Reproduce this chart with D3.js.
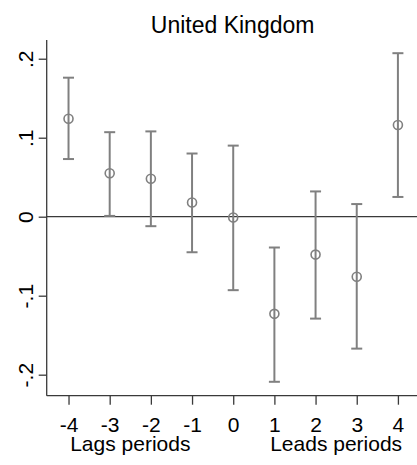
<!DOCTYPE html>
<html>
<head>
<meta charset="utf-8">
<script src="https://cdn.jsdelivr.net/npm/d3@7"></script>
<style>
  html, body { margin: 0; padding: 0; background: #fff; }
  svg { display: block; font-family: Arial, "Liberation Sans", Helvetica, sans-serif; }
</style>
</head>
<body>
<svg id="chart" width="417" height="465"></svg>
<script>
const periods = [-4, -3, -2, -1, 0, 1, 2, 3, 4];
const estimates = [0.124, 0.055, 0.048, 0.018, -0.001, -0.123, -0.048, -0.076, 0.116];
const upper = [0.176, 0.107, 0.108, 0.080, 0.090, -0.039, 0.032, 0.016, 0.207];
const lower = [0.073, 0.001, -0.012, -0.045, -0.093, -0.209, -0.129, -0.167, 0.025];
const yTicks = [-0.2, -0.1, 0, 0.1, 0.2];
const yTickLabels = ["-.2", "-.1", "0", ".1", ".2"];
const xTickLabels = ["-4", "-3", "-2", "-1", "0", "1", "2", "3", "4"];
const title = "United Kingdom";
const axisNotes = [{ at: -2.5, text: "Lags periods" }, { at: 2.5, text: "Leads periods" }];

const svg = d3.select("#chart");
const mLeft = 46.7, mRight = 418.5, mTop = 40, mBottom = 395.7;

const x = d3.scaleLinear().domain([-4.53, 4.5]).range([mLeft, mRight]);
const y = d3.scaleLinear().domain([-0.2266, 0.2237]).range([mBottom, mTop]);

const axisColor = "#3a3a3a";
const barColor = "#808080";

// Title
svg.append("text")
  .attr("x", (mLeft + mRight) / 2)
  .attr("y", 33.3)
  .attr("text-anchor", "middle")
  .attr("font-size", 23)
  .attr("fill", "#000")
  .text(title);

// Y axis
const yAxis = d3.axisLeft(y).tickValues(yTicks).tickSize(8).tickFormat((d, i) => yTickLabels[i]);
const gy = svg.append("g").attr("transform", `translate(${mLeft},0)`).call(yAxis);
gy.select(".domain").attr("stroke", axisColor).attr("stroke-width", 1.3).attr("d", `M0,${mTop}V${mBottom}`);
gy.selectAll(".tick line").attr("stroke", axisColor).attr("stroke-width", 1.3);
gy.selectAll(".tick text")
  .attr("font-size", 21)
  .attr("fill", "#000")
  .attr("font-family", "Arial, 'Liberation Sans', sans-serif")
  .attr("text-anchor", "middle")
  .attr("transform", "rotate(-90)")
  .attr("x", 0)
  .attr("y", -14)
  .attr("dy", 0);

// X axis
const xAxis = d3.axisBottom(x).tickValues(periods).tickSize(9).tickFormat((d, i) => xTickLabels[i]);
const gx = svg.append("g").attr("transform", `translate(0,${mBottom})`).call(xAxis);
gx.select(".domain").attr("stroke", axisColor).attr("stroke-width", 1.3).attr("d", `M${mLeft},0H${mRight}`);
gx.selectAll(".tick line").attr("stroke", axisColor).attr("stroke-width", 1.3);
gx.selectAll(".tick text")
  .attr("font-size", 21)
  .attr("fill", "#000")
  .attr("font-family", "Arial, 'Liberation Sans', sans-serif")
  .attr("y", 36)
  .attr("dy", 0);

// Axis notes
svg.selectAll("text.note").data(axisNotes).enter().append("text")
  .attr("class", "note")
  .attr("x", d => x(d.at))
  .attr("y", 450.7)
  .attr("text-anchor", "middle")
  .attr("font-size", 21)
  .attr("fill", "#000")
  .text(d => d.text);

// Zero line
svg.append("line")
  .attr("x1", mLeft).attr("x2", mRight)
  .attr("y1", y(0)).attr("y2", y(0))
  .attr("stroke", axisColor).attr("stroke-width", 1.3);

// Error bars
const data = periods.map((p, i) => ({ p, est: estimates[i], hi: upper[i], lo: lower[i] }));
const g = svg.append("g");
const capW = 5.5;
g.selectAll("line.bar").data(data).enter().append("line")
  .attr("x1", d => x(d.p)).attr("x2", d => x(d.p))
  .attr("y1", d => y(d.hi)).attr("y2", d => y(d.lo))
  .attr("stroke", barColor).attr("stroke-width", 2);
g.selectAll("line.capt").data(data).enter().append("line")
  .attr("x1", d => x(d.p) - capW).attr("x2", d => x(d.p) + capW)
  .attr("y1", d => y(d.hi)).attr("y2", d => y(d.hi))
  .attr("stroke", barColor).attr("stroke-width", 2);
g.selectAll("line.capb").data(data).enter().append("line")
  .attr("x1", d => x(d.p) - capW).attr("x2", d => x(d.p) + capW)
  .attr("y1", d => y(d.lo)).attr("y2", d => y(d.lo))
  .attr("stroke", barColor).attr("stroke-width", 2);
g.selectAll("circle").data(data).enter().append("circle")
  .attr("cx", d => x(d.p)).attr("cy", d => y(d.est))
  .attr("r", 4.5)
  .attr("fill", "none")
  .attr("stroke", barColor).attr("stroke-width", 1.6);
</script>
</body>
</html>
